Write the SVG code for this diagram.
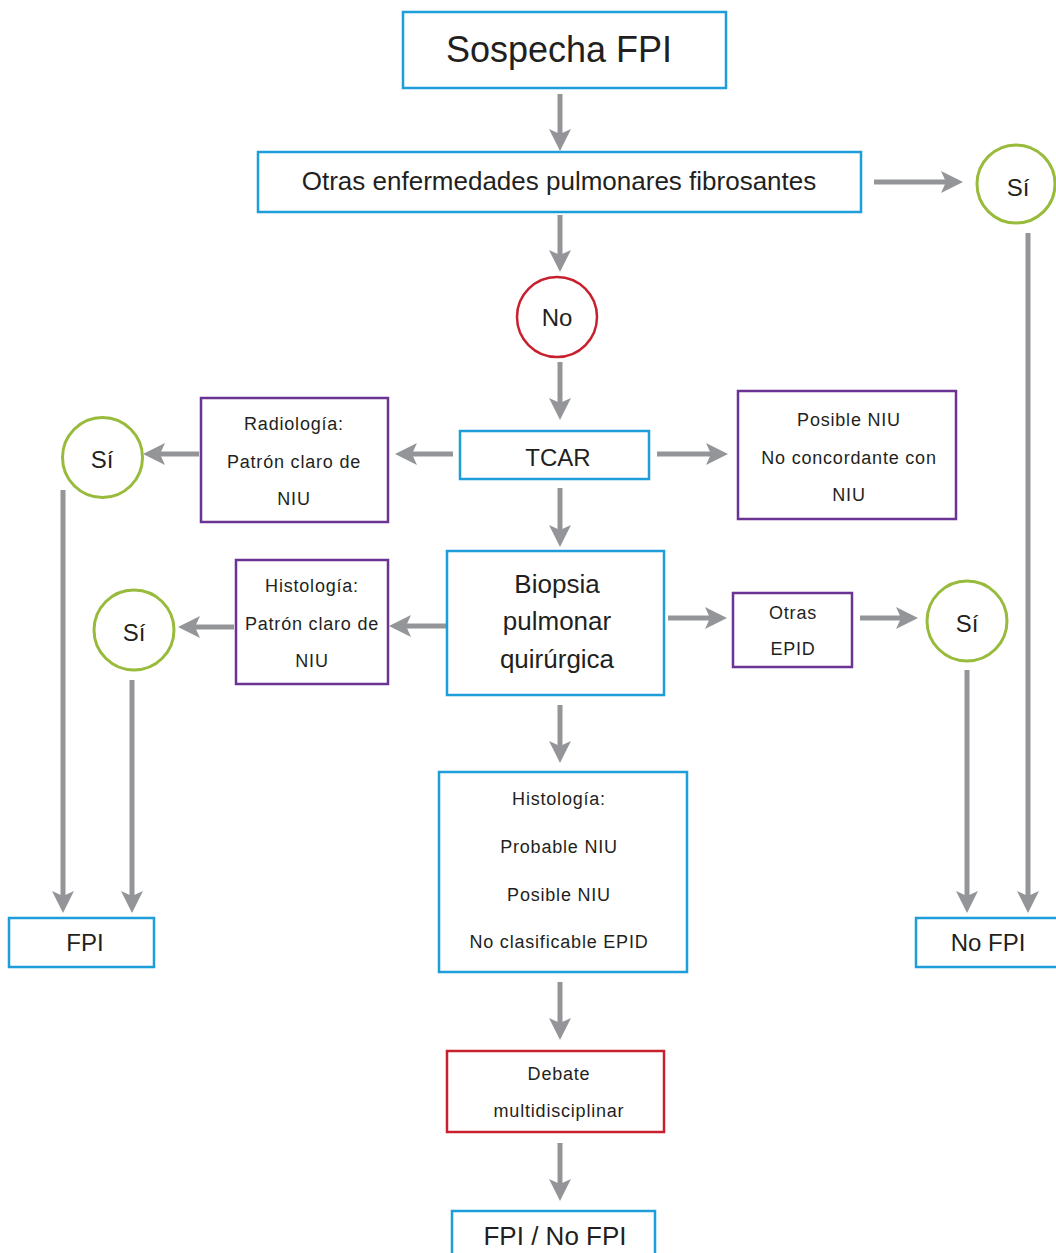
<svg xmlns="http://www.w3.org/2000/svg" width="1056" height="1253" viewBox="0 0 1056 1253">
  <style>
    .box { fill: #ffffff; stroke-width: 2.5; }
    .blue { stroke: #1d9dd9; }
    .purple { stroke: #6b3393; }
    .red { stroke: #c8202f; }
    .green { fill: #ffffff; stroke: #98bb3c; stroke-width: 3; }
    .redc { fill: #ffffff; stroke: #c8202f; stroke-width: 2.5; }
    text { font-family: "Liberation Sans", Arial, sans-serif; fill: #231f20; text-anchor: middle; }
    .t36 { font-size: 36px; }
    .t26 { font-size: 26px; }
    .t24 { font-size: 24px; }
    .t18 { font-size: 18px; letter-spacing: 0.8px; }
    .edge { fill: none; stroke: #939598; stroke-width: 5; marker-end: url(#head); }
  </style>
  <defs>
    <marker id="head" markerUnits="userSpaceOnUse" markerWidth="24" markerHeight="24" viewBox="-1 -12 24 24" refX="5" refY="0" orient="auto">
      <path d="M0,-11 L22,0 L0,11 L5,0 Z" fill="#939598"/>
    </marker>
  </defs>

  <rect width="1056" height="1253" fill="#ffffff"/>

  <!-- connectors -->
  <g id="connectors">
    <path class="edge" d="M560,94 V134"/>
    <path class="edge" d="M874,182 H946"/>
    <path class="edge" d="M1028,233 V896"/>
    <path class="edge" d="M560,215 V255"/>
    <path class="edge" d="M560,362 V403"/>
    <path class="edge" d="M453,454 H412"/>
    <path class="edge" d="M199,454 H160"/>
    <path class="edge" d="M63,490 V896"/>
    <path class="edge" d="M657,454 H711"/>
    <path class="edge" d="M560,488 V530"/>
    <path class="edge" d="M446,626 H406"/>
    <path class="edge" d="M234,627 H195"/>
    <path class="edge" d="M132,680 V896"/>
    <path class="edge" d="M668,618 H710"/>
    <path class="edge" d="M860,618 H901"/>
    <path class="edge" d="M967,670 V896"/>
    <path class="edge" d="M560,705 V746"/>
    <path class="edge" d="M560,982 V1023"/>
    <path class="edge" d="M560,1143 V1184"/>
  </g>

  <!-- nodes -->
  <g id="sospecha">
    <rect class="box blue" x="403" y="12" width="323" height="76"/>
    <text class="t36" x="559" y="62">Sospecha FPI</text>
  </g>
  <g id="otras-enfermedades">
    <rect class="box blue" x="258" y="152" width="603" height="60"/>
    <text class="t26" x="559" y="190">Otras enfermedades pulmonares fibrosantes</text>
  </g>
  <g id="si-1">
    <circle class="green" cx="1016" cy="184" r="39"/>
    <text class="t24" x="1018" y="196">Sí</text>
  </g>
  <g id="no">
    <circle class="redc" cx="557" cy="317" r="40"/>
    <text class="t24" x="557" y="326">No</text>
  </g>
  <g id="tcar">
    <rect class="box blue" x="460" y="431" width="189" height="48"/>
    <text class="t24" x="558" y="466">TCAR</text>
  </g>
  <g id="radiologia">
    <rect class="box purple" x="201" y="398" width="187" height="124"/>
    <text class="t18" x="294" y="430">Radiología:</text>
    <text class="t18" x="294" y="468">Patrón claro de</text>
    <text class="t18" x="294" y="505">NIU</text>
  </g>
  <g id="si-2">
    <circle class="green" cx="102.5" cy="457.5" r="40"/>
    <text class="t24" x="102" y="468">Sí</text>
  </g>
  <g id="posible-niu">
    <rect class="box purple" x="738" y="391" width="218" height="128"/>
    <text class="t18" x="849" y="426">Posible NIU</text>
    <text class="t18" x="849" y="464">No concordante con</text>
    <text class="t18" x="849" y="501">NIU</text>
  </g>
  <g id="biopsia">
    <rect class="box blue" x="447" y="551" width="217" height="144"/>
    <text class="t26" x="557" y="593">Biopsia</text>
    <text class="t26" x="557" y="630">pulmonar</text>
    <text class="t26" x="557" y="668">quirúrgica</text>
  </g>
  <g id="histologia-niu">
    <rect class="box purple" x="236" y="560" width="152" height="124"/>
    <text class="t18" x="312" y="592">Histología:</text>
    <text class="t18" x="312" y="630">Patrón claro de</text>
    <text class="t18" x="312" y="667">NIU</text>
  </g>
  <g id="si-3">
    <circle class="green" cx="134" cy="630" r="40"/>
    <text class="t24" x="134" y="641">Sí</text>
  </g>
  <g id="otras-epid">
    <rect class="box purple" x="733" y="593" width="119" height="74"/>
    <text class="t18" x="793" y="619">Otras</text>
    <text class="t18" x="793" y="655">EPID</text>
  </g>
  <g id="si-4">
    <circle class="green" cx="967" cy="621" r="40"/>
    <text class="t24" x="967" y="632">Sí</text>
  </g>
  <g id="histologia">
    <rect class="box blue" x="439" y="772" width="248" height="200"/>
    <text class="t18" x="559" y="805">Histología:</text>
    <text class="t18" x="559" y="853">Probable NIU</text>
    <text class="t18" x="559" y="901">Posible NIU</text>
    <text class="t18" x="559" y="948">No clasificable EPID</text>
  </g>
  <g id="debate">
    <rect class="box red" x="447" y="1051" width="217" height="81"/>
    <text class="t18" x="559" y="1080">Debate</text>
    <text class="t18" x="559" y="1117">multidisciplinar</text>
  </g>
  <g id="fpi">
    <rect class="box blue" x="9" y="918" width="145" height="49"/>
    <text class="t24" x="85" y="951">FPI</text>
  </g>
  <g id="no-fpi">
    <rect class="box blue" x="916" y="918" width="150" height="49"/>
    <text class="t24" x="988" y="951">No FPI</text>
  </g>
  <g id="fpi-no-fpi">
    <rect class="box blue" x="452" y="1211" width="203" height="60"/>
    <text class="t26" x="555" y="1245">FPI / No FPI</text>
  </g>
</svg>
